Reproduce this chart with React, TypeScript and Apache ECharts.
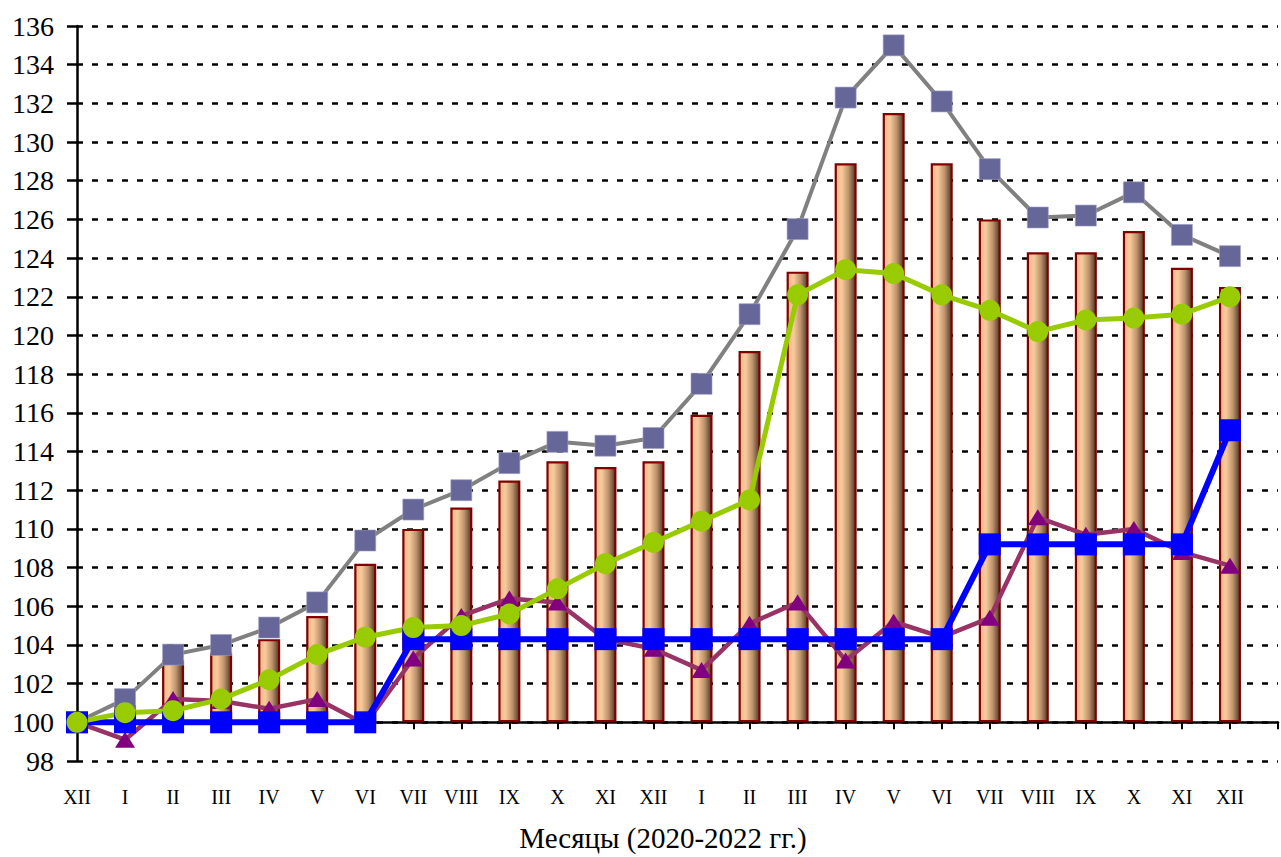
import React, { useEffect, useRef } from "react";
import * as echarts from "echarts";

const categories = ["XII", "I", "II", "III", "IV", "V", "VI", "VII", "VIII", "IX", "X", "XI", "XII", "I", "II", "III", "IV", "V", "VI", "VII", "VIII", "IX", "X", "XI", "XII"];
const barValues = [100, 100.9, 103.2, 103.6, 104.3, 105.5, 108.2, 110.0, 111.1, 112.5, 113.5, 113.2, 113.5, 115.9, 119.2, 123.3, 128.9, 131.5, 128.9, 126.0, 124.3, 124.3, 125.4, 123.5, 122.5];
const grayValues = [100, 101.2, 103.5, 104.0, 104.9, 106.2, 109.4, 111.0, 112.0, 113.4, 114.5, 114.3, 114.7, 117.5, 121.1, 125.5, 132.3, 135.0, 132.1, 128.6, 126.1, 126.2, 127.4, 125.2, 124.1];
const greenValues = [100, 100.5, 100.6, 101.2, 102.2, 103.5, 104.4, 104.9, 105.0, 105.6, 106.9, 108.2, 109.3, 110.4, 111.5, 122.1, 123.4, 123.2, 122.1, 121.3, 120.2, 120.8, 120.9, 121.1, 122.0];
const purpleValues = [100, 99.1, 101.2, 101.1, 100.7, 101.2, 99.9, 103.3, 105.5, 106.4, 106.2, 104.3, 103.8, 102.7, 105.1, 106.2, 103.2, 105.2, 104.4, 105.4, 110.6, 109.7, 110.0, 108.8, 108.1];
const blueValues = [100, 100, 100, 100, 100, 100, 100, 104.3, 104.3, 104.3, 104.3, 104.3, 104.3, 104.3, 104.3, 104.3, 104.3, 104.3, 104.3, 109.2, 109.2, 109.2, 109.2, 109.2, 115.1];
const yMin = 98;
const yMax = 136;
const yStep = 2;
const baseValue = 100;
const axisTitle = "Месяцы (2020-2022 гг.)";

const FONT = "'Liberation Serif', 'Times New Roman', serif";

export default function App() {
  const ref = useRef<HTMLDivElement>(null);
  useEffect(() => {
    if (!ref.current) return;
    const chart = echarts.init(ref.current, undefined, { renderer: "svg" });
    const gridTop = 26;
    const gridLeft = 77;
    const gridHeight = 735;
    const gridWidth = 1210;
    const axisData = [...categories, ""];
    const baseOffset = -((baseValue - yMin) / (yMax - yMin)) * gridHeight;

    const barGradient = new echarts.graphic.LinearGradient(0, 0, 1, 0, [
      { offset: 0, color: "#EDB887" },
      { offset: 0.3, color: "#F9CA9C" },
      { offset: 0.65, color: "#BE936B" },
      { offset: 1, color: "#4A3A2B" },
    ]);

    chart.setOption({
      animation: false,
      textStyle: { fontFamily: FONT },
      grid: { left: gridLeft, top: gridTop, width: gridWidth, height: gridHeight, containLabel: false },
      xAxis: [
        {
          type: "category",
          data: axisData,
          boundaryGap: false,
          position: "bottom",
          axisLine: { show: false },
          axisTick: { show: false },
          splitLine: { show: false },
          axisLabel: { interval: 0, fontSize: 20, color: "#000", fontFamily: FONT, margin: 26 },
        },
        {
          type: "category",
          data: axisData,
          boundaryGap: false,
          position: "bottom",
          offset: baseOffset,
          axisLine: { show: true, lineStyle: { color: "#000", width: 2.5 } },
          axisTick: { show: true, length: 7, interval: 0, lineStyle: { color: "#000", width: 2 } },
          axisLabel: { show: false },
          splitLine: { show: false },
        },
      ],
      yAxis: {
        type: "value",
        min: yMin,
        max: yMax,
        interval: yStep,
        axisLine: { show: true, lineStyle: { color: "#000", width: 2.5 } },
        axisTick: { show: true, length: 10, lineStyle: { color: "#000", width: 2.5 } },
        axisLabel: { fontSize: 28, color: "#000", fontFamily: FONT, margin: 23 },
        splitLine: { show: true, lineStyle: { color: "#000", width: 2.5, type: [6, 9] } },
      },
      series: [
        {
          type: "bar",
          stack: "bars",
          barWidth: 22,
          data: barValues.map(() => baseValue),
          itemStyle: { color: "rgba(0,0,0,0)" },
          silent: true,
        },
        {
          type: "bar",
          stack: "bars",
          barWidth: 22,
          data: barValues.map((v) => v - baseValue),
          itemStyle: { color: barGradient, borderColor: "#800000", borderWidth: 2.2 },
        },
        {
          type: "line",
          data: grayValues,
          symbol: "rect",
          symbolSize: 21,
          lineStyle: { color: "#808080", width: 4 },
          itemStyle: { color: "#666699", borderColor: "#a0a0c8", borderWidth: 0.6 },
        },
        {
          type: "line",
          data: purpleValues,
          symbol: "triangle",
          symbolSize: [20, 16],
          lineStyle: { color: "#993366", width: 4.5 },
          itemStyle: { color: "#800080" },
        },
        {
          type: "line",
          data: blueValues,
          symbol: "rect",
          symbolSize: 22,
          lineStyle: { color: "#0000FF", width: 6 },
          itemStyle: { color: "#0000FF" },
        },
        {
          type: "line",
          data: greenValues,
          symbol: "circle",
          symbolSize: 21,
          lineStyle: { color: "#99CC00", width: 5 },
          itemStyle: { color: "#99CC00" },
        },
      ],
      graphic: [
        {
          type: "text",
          x: 663,
          y: 838,
          style: {
            text: axisTitle,
            fontSize: 29,
            fontFamily: FONT,
            fill: "#000",
            textAlign: "center",
            textVerticalAlign: "middle",
          },
        },
      ],
    });
    return () => chart.dispose();
  }, []);
  return (
    <div
      ref={ref}
      style={{ position: "absolute", left: 0, top: 0, width: 1281, height: 857, background: "#fff" }}
    />
  );
}
